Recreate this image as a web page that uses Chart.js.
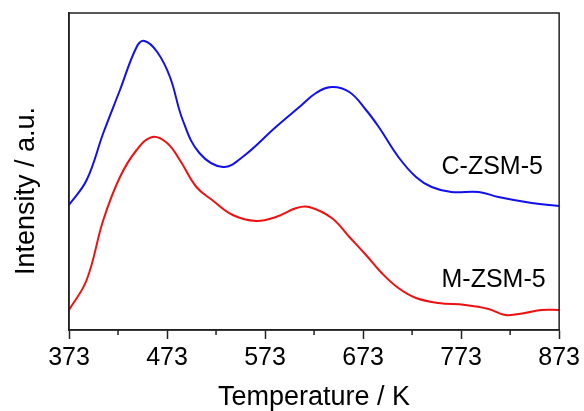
<!DOCTYPE html>
<html>
<head>
<meta charset="utf-8">
<script src="https://cdn.jsdelivr.net/npm/chart.js@4.4.1/dist/chart.umd.min.js"></script>
<style>
	html, body { margin: 0; padding: 0; background: #fff; }
	#wrap { width: 584px; height: 411px; }
</style>
</head>
<body>
<div id="wrap"><canvas id="tpd"></canvas></div>
<script>
// C-ZSM-5 (blue)
const cTemps = [373, 391, 408, 425, 442, 450, 463, 476, 489, 506, 530, 550, 584, 608, 625, 641, 659, 676, 689, 709, 727, 743, 763, 791, 811, 845, 873];
const cValues = [125, 150, 197, 240, 283, 289, 278, 253, 210, 177, 163, 173, 203, 223, 237, 243, 238, 220, 203, 173, 153, 143, 138, 138, 133, 127, 124];

// M-ZSM-5 (red)
const mTemps = [373, 391, 408, 425, 442, 458, 473, 486, 503, 519, 540, 564, 584, 605, 618, 641, 659, 676, 692, 709, 727, 750, 777, 801, 818, 838, 855, 873];
const mValues = [20, 50, 110, 153, 180, 193, 187, 170, 143, 130, 115, 109, 113, 122, 123, 112, 93, 75, 57, 42, 32, 27, 25, 21, 15, 17, 20, 20];

const majorTicks = [373, 473, 573, 673, 773, 873];
const minorTicks = [423, 523, 623, 723, 823];

const seriesLabels = ['C-ZSM-5', 'M-ZSM-5'];
const labelSpots = [[753, 163], [753, 50]];

const FONT = 'Liberation Sans, Arial, sans-serif';

function toPoints(xs, ys) {
	return xs.map((x, i) => ({ x: x, y: ys[i] }));
}

/* frame, minor ticks, titles and curve labels */
const extrasPlugin = {
	id: 'extras',
	afterDraw(chart) {
		const { ctx, chartArea: a, scales } = chart;
		ctx.save();
		ctx.strokeStyle = '#222';
		ctx.lineWidth = 1.5;
		ctx.strokeRect(a.left, a.top, a.right - a.left, a.bottom - a.top);

		// minor ticks
		ctx.beginPath();
		minorTicks.forEach(v => {
			const px = scales.x.getPixelForValue(v);
			ctx.moveTo(px, a.bottom);
			ctx.lineTo(px, a.bottom + 5);
		});
		ctx.stroke();

		ctx.fillStyle = '#000';
		ctx.textBaseline = 'middle';

		// curve labels
		ctx.font = '25px ' + FONT;
		ctx.textAlign = 'left';
		labelSpots.forEach((p, i) => {
			ctx.fillText(seriesLabels[i], scales.x.getPixelForValue(p[0]), scales.y.getPixelForValue(p[1]));
		});

		// axis titles
		ctx.font = '27px ' + FONT;
		ctx.textAlign = 'center';
		ctx.fillText('Temperature / K', (a.left + a.right) / 2, 398);
		ctx.translate(27, 191);
		ctx.rotate(-Math.PI / 2);
		ctx.fillText('Intensity / a.u.', 0, 0);
		ctx.restore();
	}
};

new Chart(document.getElementById('tpd').getContext('2d'), {
	type: 'line',
	data: {
		datasets: [
			{
				label: seriesLabels[0],
				data: toPoints(cTemps, cValues),
				borderColor: '#1010f0',
				borderWidth: 2,
				pointRadius: 0,
				tension: 0.4
			},
			{
				label: seriesLabels[1],
				data: toPoints(mTemps, mValues),
				borderColor: '#f01010',
				borderWidth: 2,
				pointRadius: 0,
				tension: 0.4
			}
		]
	},
	options: {
		responsive: true,
		maintainAspectRatio: false,
		animation: false,
		layout: { padding: { top: 13, right: 23, left: 0, bottom: 0 } },
		plugins: {
			legend: { display: false },
			tooltip: { enabled: false }
		},
		scales: {
			x: {
				type: 'linear',
				min: 373,
				max: 873,
				afterBuildTicks: scale => { scale.ticks = majorTicks.map(v => ({ value: v })); },
				afterFit: scale => { scale.height = 81; },
				grid: { drawOnChartArea: false, tickLength: 9, tickColor: '#222', tickWidth: 1.5 },
				border: { color: '#222', width: 1.5 },
				ticks: {
					color: '#000',
					padding: 4,
					maxRotation: 0,
					autoSkip: false,
					font: { family: FONT, size: 25 }
				}
			},
			y: {
				min: 0,
				max: 317,
				afterFit: scale => { scale.width = 69; },
				grid: { display: false },
				border: { color: '#222', width: 1.5 },
				ticks: { display: false }
			}
		}
	},
	plugins: [extrasPlugin]
});
</script>
</body>
</html>
